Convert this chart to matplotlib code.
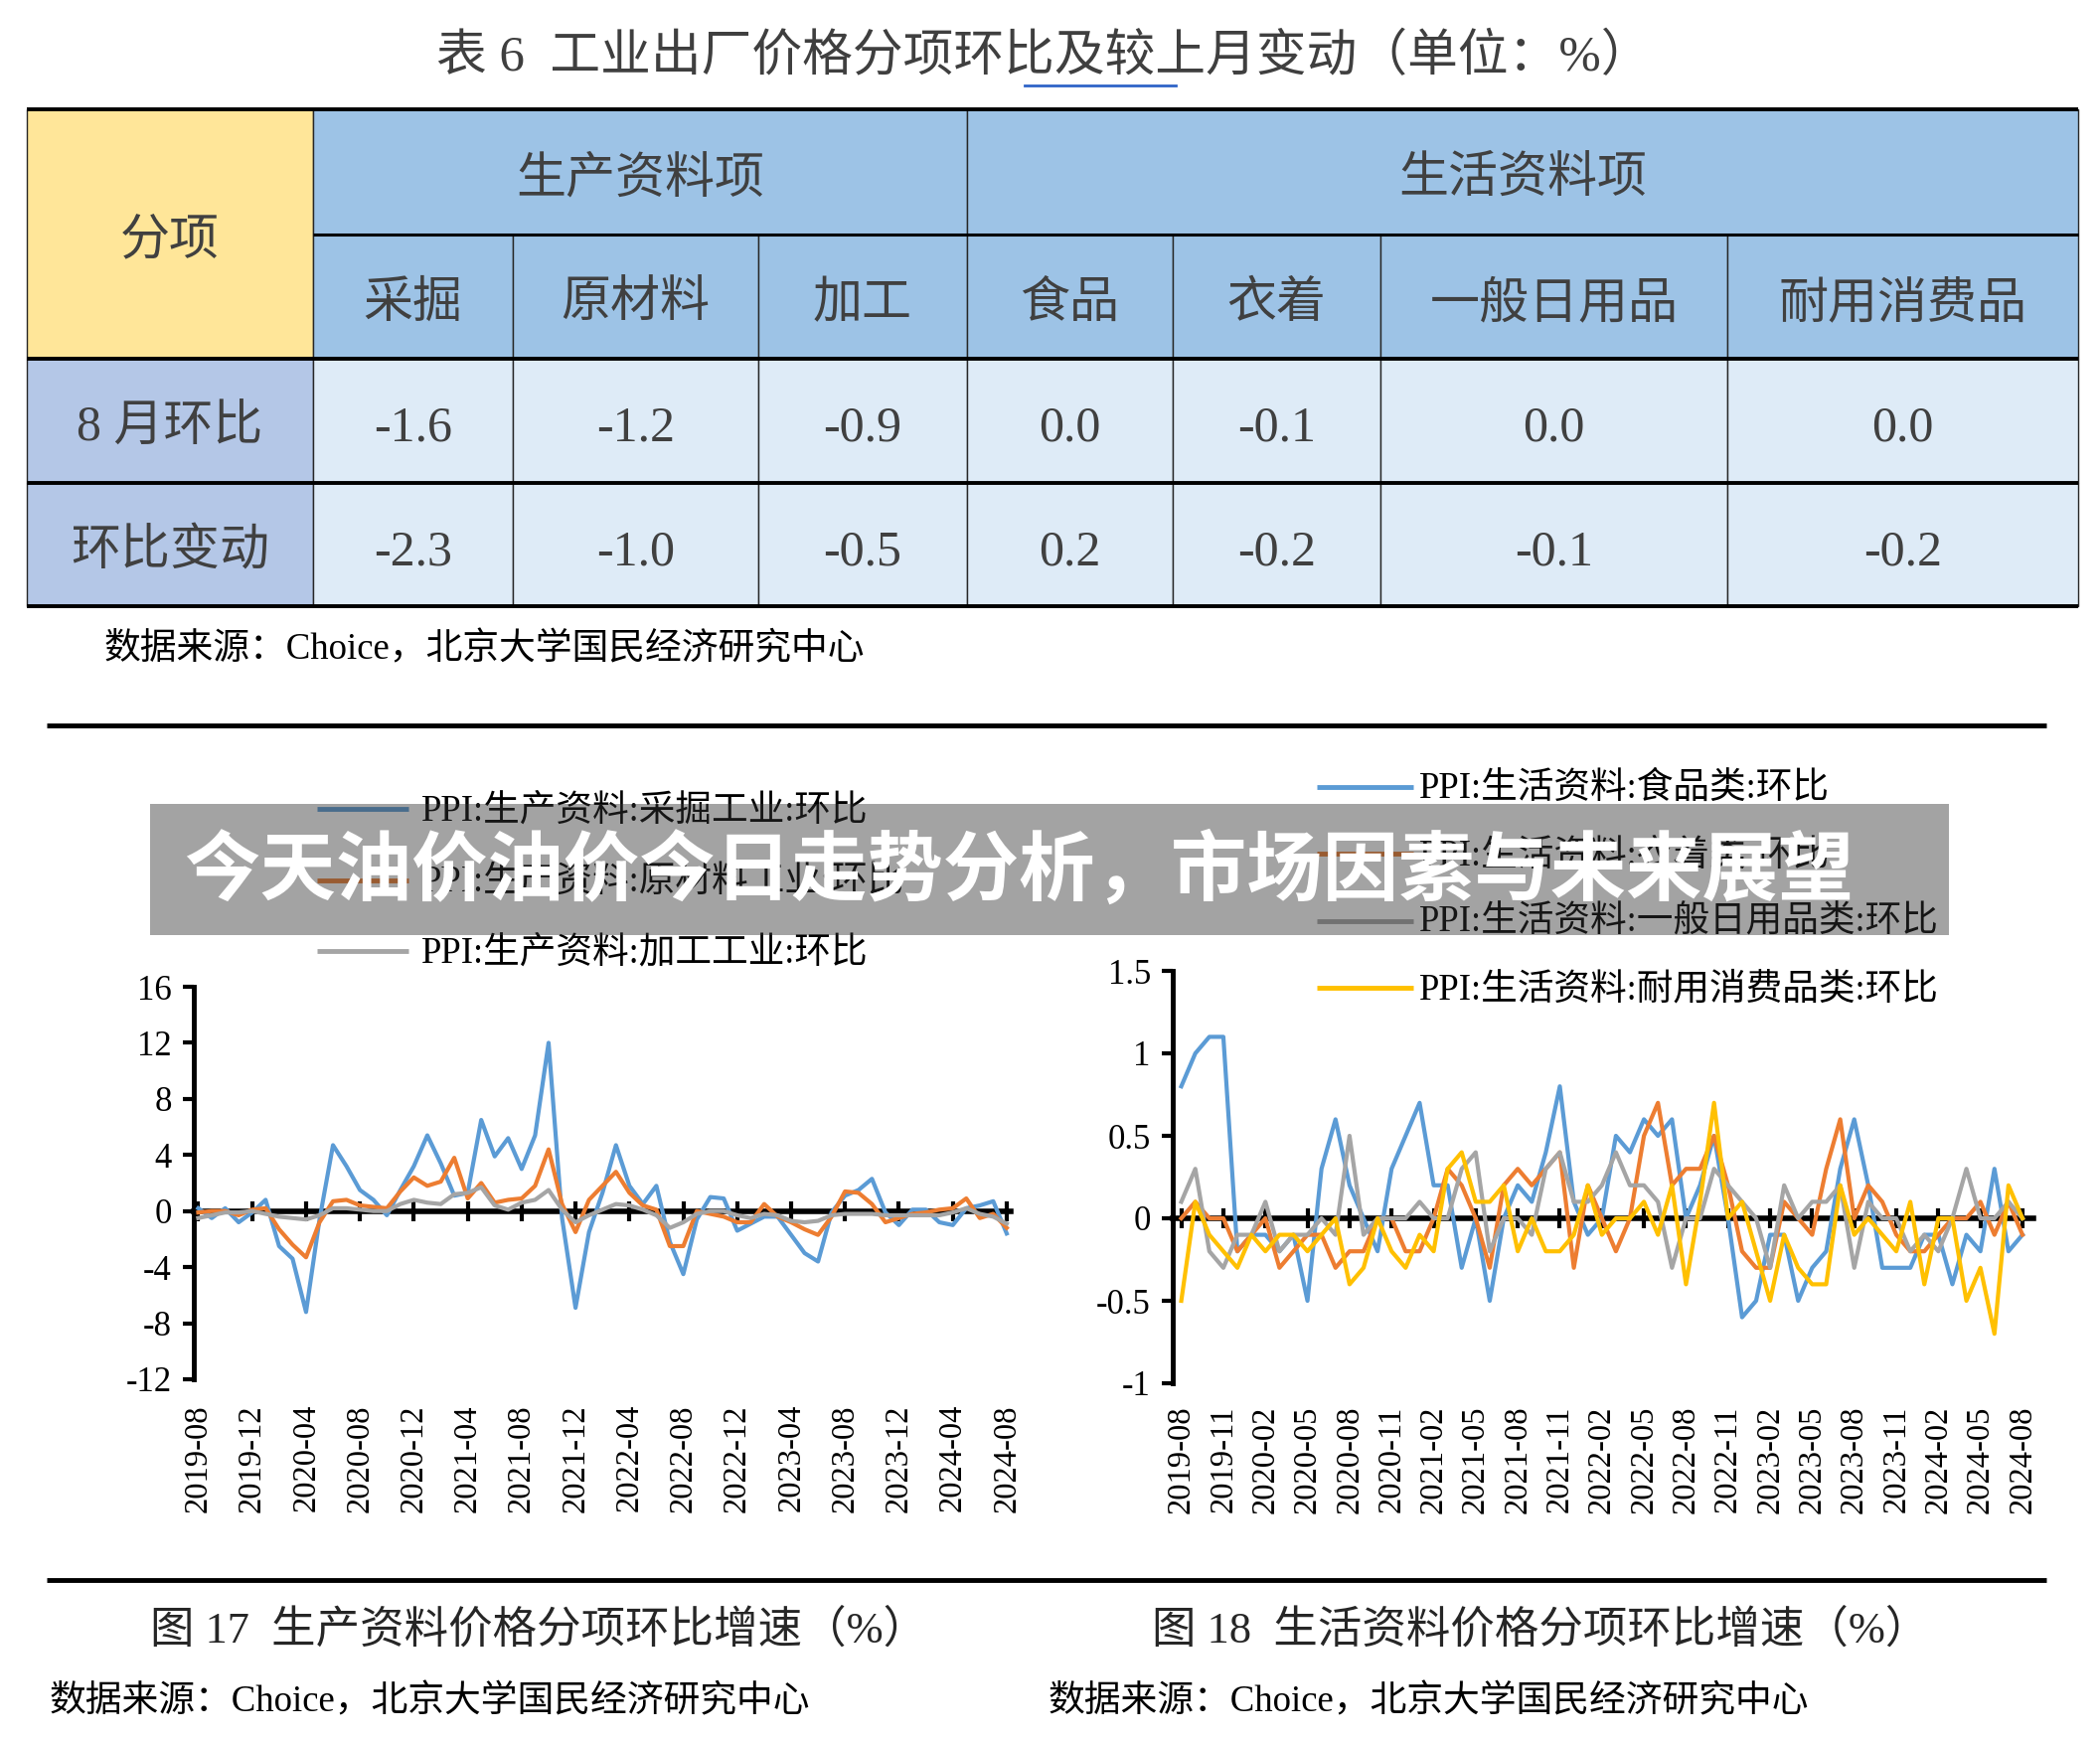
#!/usr/bin/env python3

import pandas as pd
import matplotlib.pyplot as plt
from matplotlib.patches import Rectangle

plt.rcParams['font.family'] = ['Liberation Serif', 'Noto Sans CJK SC']
plt.rcParams['axes.unicode_minus'] = False

# ---------------- data ----------------
table_title = '表 6  工业出厂价格分项环比及较上月变动（单位：%）'
group_names = ['生产资料项', '生活资料项']
sub_items = ['采掘', '原材料', '加工', '食品', '衣着', '一般日用品', '耐用消费品']
row_names = ['8 月环比', '环比变动']
aug_mom = [-1.6, -1.2, -0.9, 0.0, -0.1, 0.0, 0.0]
mom_change = [-2.3, -1.0, -0.5, 0.2, -0.2, -0.1, -0.2]

months = pd.date_range('2019-08', periods=61, freq='MS').strftime('%Y-%m').tolist()

mining = [0.2, -0.5, 0.2, -0.8, -0.1, 0.8, -2.5, -3.4, -7.2, -0.6,
          4.7, 3.2, 1.5, 0.8, -0.3, 1.5, 3.2, 5.4, 3.4, 1.1,
          1.3, 6.5, 3.9, 5.2, 3.0, 5.4, 12.0, -0.5, -6.9, -1.5,
          1.3, 4.7, 1.8, 0.5, 1.8, -2.2, -4.5, -0.6, 1.0, 0.9,
          -1.4, -0.9, -0.4, -0.4, -1.7, -3.0, -3.6, -0.1, 1.1, 1.5,
          2.3, -0.1, -1.0, 0.1, 0.1, -0.8, -1.0, 0.2, 0.4, 0.7,
          -1.6]
raw_material = [-0.1, 0.0, 0.0, -0.3, 0.1, 0.2, -1.3, -2.4, -3.3, -0.8,
                0.7, 0.8, 0.4, 0.3, 0.2, 1.4, 2.4, 1.8, 2.1, 3.8,
                0.9, 2.0, 0.6, 0.8, 0.9, 1.8, 4.4, 0.5, -1.5, 0.8,
                1.8, 2.8, 1.3, 0.4, 0.1, -2.5, -2.5, 0.0, -0.2, -0.4,
                -0.8, -0.8, 0.5, -0.4, -0.8, -1.3, -1.7, -0.4, 1.4, 1.3,
                0.5, -0.8, -0.5, -0.2, -0.1, 0.1, 0.2, 0.9, -0.5, -0.2,
                -1.2]
processing = [-0.5, -0.3, -0.1, -0.1, 0.0, -0.2, -0.4, -0.5, -0.6, -0.3,
              0.2, 0.2, 0.1, 0.0, 0.0, 0.5, 0.8, 0.6, 0.5, 1.2,
              1.3, 1.7, 0.4, 0.1, 0.6, 0.8, 1.5, 0.1, -0.8, -0.3,
              0.1, 0.5, 0.4, 0.1, -0.3, -1.2, -0.8, -0.2, 0.0, 0.0,
              -0.3, -0.5, -0.2, -0.3, -0.7, -0.8, -0.7, -0.3, -0.2, -0.2,
              -0.2, -0.3, -0.3, -0.3, -0.3, -0.3, -0.1, 0.2, -0.2, -0.4,
              -0.9]

food = [0.8, 1.0, 1.1, 1.1, -0.2, -0.1, -0.1, -0.2, -0.1, -0.5,
        0.3, 0.6, 0.2, 0.0, -0.2, 0.3, 0.5, 0.7, 0.2, 0.2,
        -0.3, 0.0, -0.5, 0.0, 0.2, 0.1, 0.4, 0.8, 0.1, -0.1,
        0.0, 0.5, 0.4, 0.6, 0.5, 0.6, 0.0, 0.2, 0.5, 0.0,
        -0.6, -0.5, -0.1, -0.1, -0.5, -0.3, -0.2, 0.3, 0.6, 0.2,
        -0.3, -0.3, -0.3, -0.1, -0.1, -0.4, -0.1, -0.2, 0.3, -0.2,
        -0.1]
clothing = [0.0, 0.1, 0.0, 0.0, -0.2, -0.1, 0.0, -0.3, -0.2, -0.1,
            -0.1, -0.3, -0.2, -0.2, 0.0, 0.0, -0.2, -0.2, 0.0, 0.3,
            0.2, 0.0, -0.3, 0.2, 0.3, 0.2, 0.3, 0.4, -0.3, 0.2,
            0.0, -0.2, 0.0, 0.5, 0.7, 0.2, 0.3, 0.3, 0.5, 0.2,
            -0.2, -0.3, -0.3, 0.1, 0.0, -0.1, 0.3, 0.6, 0.0, 0.2,
            0.1, -0.1, -0.2, -0.2, -0.1, 0.0, 0.0, 0.1, -0.1, 0.1,
            -0.1]
daily_goods = [0.1, 0.3, -0.2, -0.3, -0.1, -0.1, 0.1, -0.2, -0.1, -0.1,
               0.0, -0.1, 0.5, -0.1, 0.0, 0.0, 0.0, 0.1, 0.0, 0.0,
               0.3, 0.4, -0.2, 0.0, 0.0, -0.1, 0.3, 0.4, 0.1, 0.1,
               0.2, 0.4, 0.2, 0.2, 0.1, -0.3, 0.0, 0.0, 0.3, 0.2,
               0.1, 0.0, -0.3, 0.2, 0.0, 0.1, 0.1, 0.2, -0.3, 0.1,
               0.0, 0.0, -0.2, -0.1, -0.2, 0.0, 0.3, 0.0, 0.0, 0.1,
               0.0]
durables = [-0.5, 0.1, -0.1, -0.2, -0.3, -0.1, -0.2, -0.1, -0.1, -0.2,
            -0.1, 0.0, -0.4, -0.3, 0.0, -0.2, -0.3, -0.1, -0.2, 0.3,
            0.4, 0.1, 0.1, 0.2, -0.2, 0.0, -0.2, -0.2, -0.1, 0.2,
            -0.1, 0.0, 0.0, 0.1, -0.1, 0.2, -0.4, 0.1, 0.7, 0.0,
            0.1, -0.2, -0.5, -0.1, -0.3, -0.4, -0.4, 0.2, -0.1, 0.0,
            -0.1, -0.2, 0.1, -0.4, 0.0, 0.0, -0.5, -0.3, -0.7, 0.2,
            0.0]

left_labels = ['PPI:生产资料:采掘工业:环比', 'PPI:生产资料:原材料工业:环比',
               'PPI:生产资料:加工工业:环比']
right_labels = ['PPI:生活资料:食品类:环比', 'PPI:生活资料:衣着类:环比',
                'PPI:生活资料:一般日用品类:环比', 'PPI:生活资料:耐用消费品类:环比']
left_yticks = [16, 12, 8, 4, 0, -4, -8, -12]
right_yticks = [1.5, 1, 0.5, 0, -0.5, -1]
right_yticklabels = ['1.5', '1', '0.5', '0', '-0.5', '-1']

caption_left = '图 17  生产资料价格分项环比增速（%）'
caption_right = '图 18  生活资料价格分项环比增速（%）'
source = '数据来源：Choice，北京大学国民经济研究中心'
banner = '今天油价油价今日走势分析，市场因素与未来展望'

BLUE, ORANGE, GRAY, YELLOW = '#5B9BD5', '#ED7D31', '#A5A5A5', '#FFC000'

# ---------------- figure ----------------
W, H = 2113, 1752
fig = plt.figure(figsize=(W / 100, H / 100), dpi=100)
bg = fig.add_axes([0, 0, 1, 1])
bg.set_xlim(0, W)
bg.set_ylim(H, 0)
bg.axis('off')


def axes_px(x0, y0, x1, y1):
    return fig.add_axes([x0 / W, 1 - y1 / H, (x1 - x0) / W, (y1 - y0) / H])


# ---------------- table ----------------
bg.text(1050, 58, table_title, ha='center', va='center', fontsize=36.5, color='#3F3F3F')
bg.plot([1031, 1183], [86, 86], color='#2F64C8', lw=2)

cols = [27, 315, 516, 763, 973, 1180, 1389, 1738, 2091]
rows = [110, 236, 361, 486, 610]
tcolor = '#404040'
fs = 36


def cell(x0, x1, y0, y1, face, text):
    bg.add_patch(Rectangle((x0, y0), x1 - x0, y1 - y0, facecolor=face,
                           edgecolor='#262626', lw=1.0))
    bg.text((x0 + x1) / 2, (y0 + y1) / 2 + 8, text, ha='center', va='center',
            fontsize=fs, color=tcolor)


cell(cols[0], cols[1], rows[0], rows[2], '#FFE699', '分项')
cell(cols[1], cols[4], rows[0], rows[1], '#9DC3E6', group_names[0])
cell(cols[4], cols[8], rows[0], rows[1], '#9DC3E6', group_names[1])
for j, name in enumerate(sub_items):
    cell(cols[j + 1], cols[j + 2], rows[1], rows[2], '#9DC3E6', name)
for r, (rname, vals) in enumerate(zip(row_names, [aug_mom, mom_change])):
    cell(cols[0], cols[1], rows[r + 2], rows[r + 3], '#B4C7E7', rname)
    for j, v in enumerate(vals):
        cell(cols[j + 1], cols[j + 2], rows[r + 2], rows[r + 3], '#DEEBF7', f'{v:.1f}')
bg.hlines([rows[0], rows[2], rows[3], rows[4]], cols[0], cols[-1], color='black', lw=2.8)
bg.hlines(rows[1], cols[1], cols[-1], color='black', lw=2.2)

bg.text(105, 654, source, ha='left', va='center', fontsize=26.5, color='black')
bg.hlines([730, 1590], 47, 2059, color='black', lw=3.5)

# ---------------- legends ----------------
for k, (lab, c) in enumerate(zip(left_labels, [BLUE, ORANGE, GRAY])):
    y = 814 + k * 71.5
    bg.plot([319, 411], [y, y], color=c, lw=3.5, solid_capstyle='butt')
    bg.text(424, y + 2, lab, ha='left', va='center', fontsize=26.4, color='black')
for k, (lab, c) in enumerate(zip(right_labels, [BLUE, ORANGE, GRAY, YELLOW])):
    y = 792 + k * 67.3
    bg.plot([1325, 1422], [y, y], color=c, lw=3.5, solid_capstyle='butt')
    bg.text(1428, y + 2, lab, ha='left', va='center', fontsize=26.4, color='black')


# ---------------- charts ----------------
def style_chart(ax, ylim, yticks, yticklabels, step, pad):
    idx = list(range(len(months)))
    ax.set_ylim(*ylim)
    for s in ['top', 'right']:
        ax.spines[s].set_visible(False)
    ax.spines['left'].set_linewidth(3.5)
    ax.spines['bottom'].set_position(('data', 0))
    ax.spines['bottom'].set_linewidth(4)
    ax.spines['bottom'].set_zorder(1)
    ax.set_xticks(idx[::step])
    ax.tick_params(axis='x', direction='inout', length=14, width=3, labelbottom=False)
    ax.set_yticks(yticks)
    ax.set_yticklabels(yticklabels)
    ax.tick_params(axis='y', direction='out', length=8, width=3, labelsize=25, pad=8)
    sec = ax.secondary_xaxis('bottom')
    sec.set_xticks(idx[::step], labels=months[::step])
    sec.tick_params(length=0, labelsize=23.5, labelrotation=90, pad=pad)
    sec.spines['bottom'].set_visible(False)
    ax.patch.set_alpha(0)


axL = axes_px(195, 993, 1017, 1388)
x = list(range(len(months)))
axL.plot(x, mining, color=BLUE, lw=3, zorder=3)
axL.plot(x, raw_material, color=ORANGE, lw=3, zorder=3)
axL.plot(x, processing, color=GRAY, lw=3, zorder=3)
axL.set_xlim(-0.33, 60.3)
style_chart(axL, (-12, 16), left_yticks, [str(v) for v in left_yticks], 4, 18)

axR = axes_px(1180, 977, 2046, 1392)
axR.plot(x, food, color=BLUE, lw=3, zorder=3)
axR.plot(x, clothing, color=ORANGE, lw=3, zorder=3)
axR.plot(x, daily_goods, color=GRAY, lw=3, zorder=3)
axR.plot(x, durables, color=YELLOW, lw=3, zorder=3)
axR.set_xlim(-0.61, 60.78)
style_chart(axR, (-1, 1.5), right_yticks, right_yticklabels, 3, 16)

# ---------------- captions ----------------
bg.text(542, 1640, caption_left, ha='center', va='center', fontsize=32, color='#262626')
bg.text(1550, 1640, caption_right, ha='center', va='center', fontsize=32, color='#262626')
bg.text(50, 1713, source, ha='left', va='center', fontsize=26.5, color='black')
bg.text(1055, 1713, source, ha='left', va='center', fontsize=26.5, color='black')

# ---------------- banner overlay ----------------
top = fig.add_axes([0, 0, 1, 1], zorder=10)
top.set_xlim(0, W)
top.set_ylim(H, 0)
top.axis('off')
top.add_patch(Rectangle((151, 809), 1810, 132, facecolor='#333333', alpha=0.45, lw=0))
top.text(185, 877, banner, ha='left', va='center', fontsize=55, color='white',
         fontweight='bold', family=['Noto Sans CJK SC'])

fig.savefig('out.png', dpi=100)
